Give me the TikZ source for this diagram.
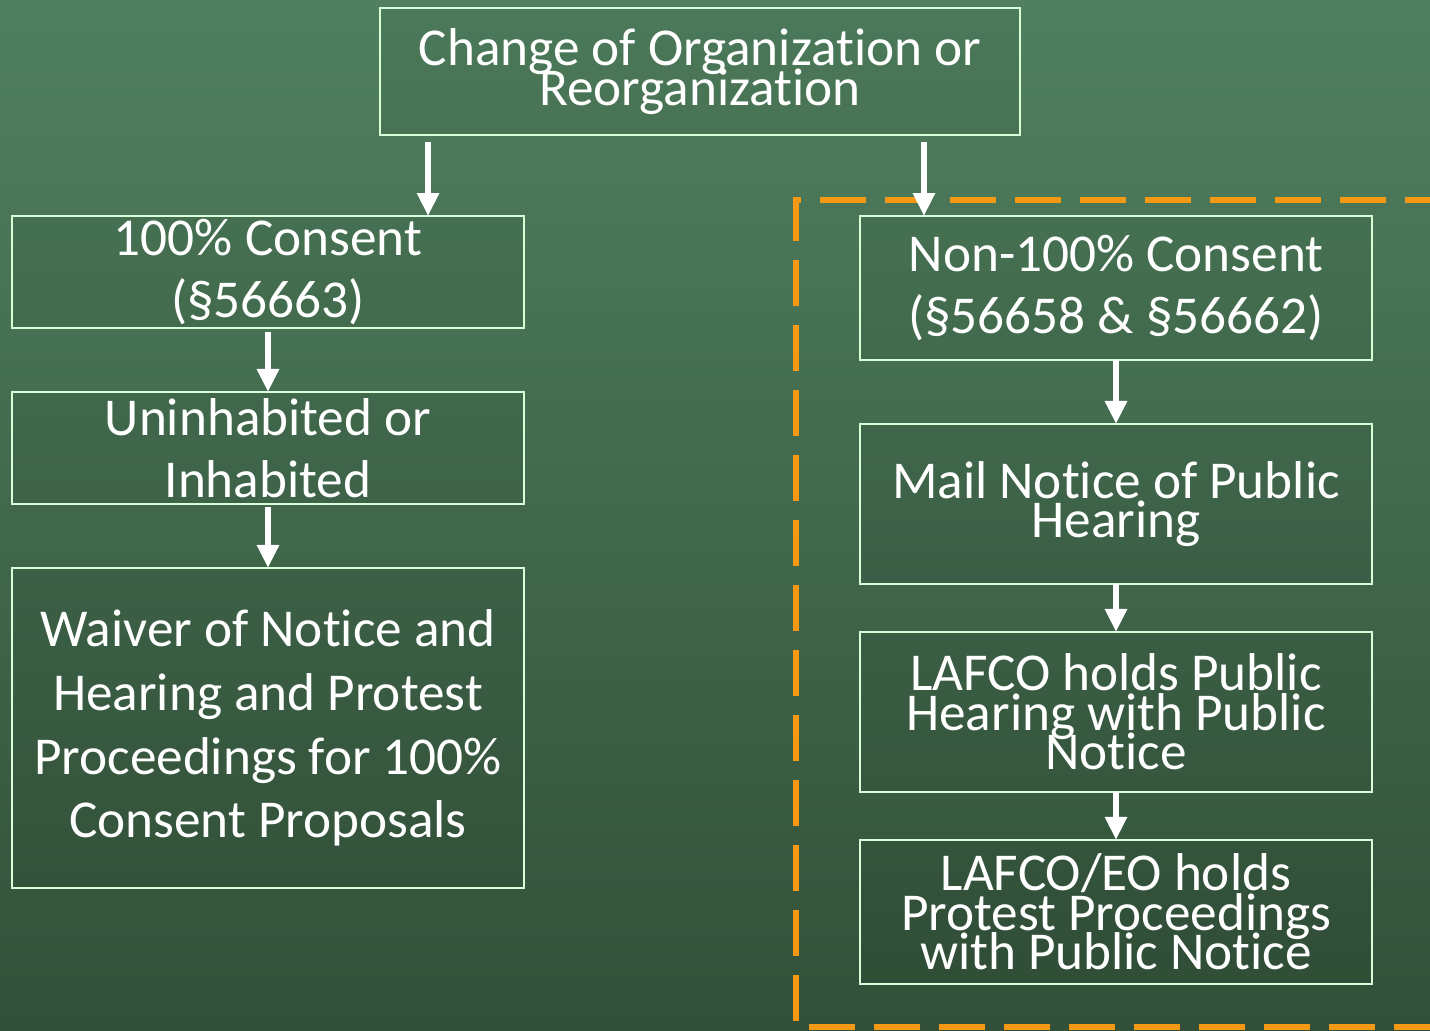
\documentclass[tikz,border=0pt]{standalone}
\usepackage{fontspec}
\setmainfont{Carlito}[RawFeature={-liga}]
\usetikzlibrary{arrows.meta,positioning}

\definecolor{boardtop}{RGB}{80,128,95}
\definecolor{boardbot}{RGB}{50,80,57}
\definecolor{dashorange}{RGB}{245,152,20}

\begin{document}
\begin{tikzpicture}[x=0.02cm,y=-0.02cm,
    box/.style={draw=white!85!green, line width=0.9pt, fill=black, fill opacity=0.05,
      text opacity=1, text=white, align=center, inner sep=0pt, outer sep=0pt,
      minimum width=10.24cm},
    loose/.style={font=\fontsize{30.3}{35.2}\selectfont},
    tight/.style={font={\fontsize{30.3}{22.4}\selectfont\lineskiplimit=-100pt\relax}},
    arr/.style={draw=white, line width=3.3pt, -{Triangle[width=0.42cm,length=0.46cm]}},
    frame/.style={draw=dashorange, line width=3.4pt, dash pattern=on 0.92cm off 0.38cm}]
    % chalkboard
    \fill[top color=boardtop, bottom color=boardbot] (0,0) rectangle (1430,1031);
    \clip (0,0) rectangle (1430,1031);
    \useasboundingbox (0,0) rectangle (1430,1031);
    % dashed frame round the non-100% branch
    \draw[frame] (1440,1027) -- (796,1027) -- (796,200) -- (1440,200);
    \node(top) at (700,71.5) [box, tight, minimum width=12.8cm, minimum height=2.54cm]
      {Change of Organization or\\Reorganization};
    % left branch
    \node(cons) at (268,272) [box, loose, minimum height=2.24cm]
      {100\% Consent\\(§56663)};
    \node(inhab) [below=1.28cm of cons, box, loose, minimum height=2.24cm]
      {Uninhabited or\\Inhabited};
    \node(waiver) [below=1.28cm of inhab, box, font=\fontsize{30.3}{36.3}\selectfont,
      minimum height=6.4cm]
      {Waiver of Notice and\\Hearing and Protest\\Proceedings for 100\%\\Consent Proposals};
    % right branch
    \node(non) at (1116,288) [box, loose, minimum height=2.88cm]
      {Non-100\% Consent\\(§56658 \& §56662)};
    \node(mail) [below=1.28cm of non, box, tight, minimum height=3.2cm]
      {Mail Notice of Public\\Hearing};
    \node(lafco) [below=0.96cm of mail, box, tight, minimum height=3.2cm]
      {LAFCO holds Public\\Hearing with Public\\Notice};
    \node(protest) [below=0.96cm of lafco, box, tight, minimum height=2.88cm]
      {LAFCO/EO holds\\Protest Proceedings\\with Public Notice};
    % arrows
    \coordinate(l1) at ([xshift=0.96cm]top.south west);
    \coordinate(r1) at ([xshift=-1.92cm]top.south east);
    \draw[arr] ([yshift=-0.14cm]l1) -- (l1 |- cons.north);
    \draw[arr] ([yshift=-0.14cm]r1) -- (r1 |- non.north);
    \draw[arr, shorten <=2pt] (cons) -- (inhab);
    \draw[arr, shorten <=2pt] (inhab) -- (waiver);
    \draw[arr] (non) -- (mail);
    \draw[arr] (mail) -- (lafco);
    \draw[arr] (lafco) -- (protest);
\end{tikzpicture}
\end{document}
